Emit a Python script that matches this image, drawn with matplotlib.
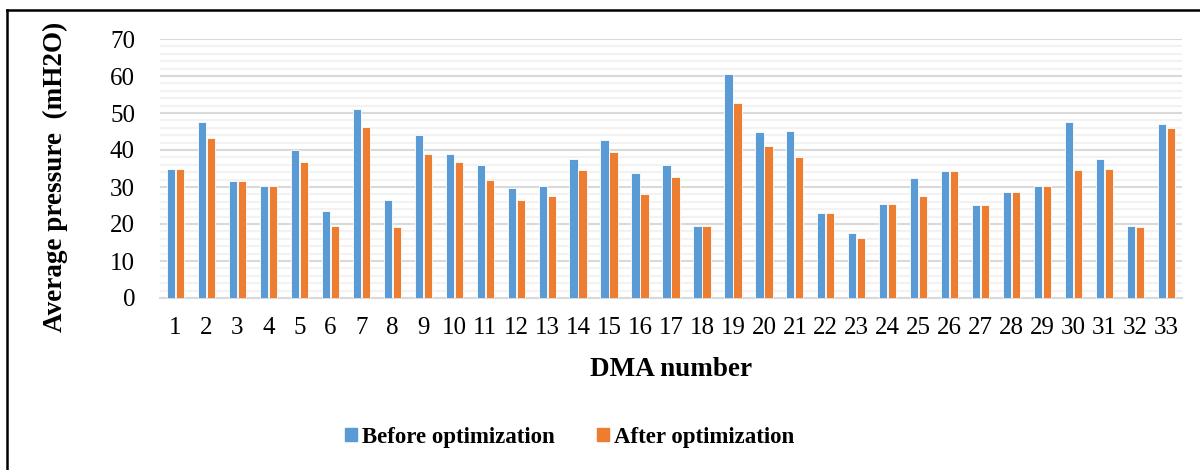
import numpy as np
import matplotlib
matplotlib.use("Agg")
import matplotlib.pyplot as plt
from matplotlib.lines import Line2D
from matplotlib.patches import Patch

# DMA numbers and average pressure (mH2O)
dma = [str(i) for i in range(1, 34)]
before = [35.0, 47.5, 31.6, 30.3, 40.0, 23.5, 51.1, 26.4, 44.0, 38.8, 36.0,
          29.6, 30.4, 37.7, 42.6, 33.7, 36.0, 19.5, 60.5, 44.9, 45.1, 23.1,
          17.7, 25.5, 32.3, 34.2, 25.1, 28.6, 30.4, 47.7, 37.6, 19.5, 47.0]
after = [35.0, 43.2, 31.6, 30.3, 36.8, 19.5, 46.2, 19.3, 39.0, 36.8, 31.8,
         26.5, 27.7, 34.5, 39.5, 28.2, 32.8, 19.4, 52.8, 41.2, 38.0, 23.1,
         16.1, 25.5, 27.5, 34.2, 25.1, 28.6, 30.4, 34.7, 35.0, 19.3, 45.9]

blue = "#5B9BD5"
orange = "#ED7D31"

plt.rcParams['font.family'] = ['Liberation Serif', 'DejaVu Serif']

fig = plt.figure(figsize=(12, 4.7), dpi=100)
ax = fig.add_axes([160/1200, 1 - 298/470, 1022/1200, 259/470])

x = np.arange(len(dma))
w = 0.265
ax.bar(x - 0.145, before, w, color=blue, edgecolor="white", linewidth=0.6, zorder=3)
ax.bar(x + 0.145, after, w, color=orange, edgecolor="white", linewidth=0.6, zorder=3)

ax.set_xlim(-0.5, len(dma) - 0.5)
ax.set_ylim(0, 70)
ax.set_yticks(np.arange(0, 71, 10))
ax.set_yticks(np.arange(0, 71, 2), minor=True)
ax.set_xticks(x)
ax.set_xticklabels(dma)

ax.grid(axis="y", which="major", color="#d9d9d9", linewidth=1.5, zorder=0)
ax.grid(axis="y", which="minor", color="#f2f2f2", linewidth=1.5, zorder=0)
ax.set_axisbelow(True)

for s in ["top", "right", "left"]:
    ax.spines[s].set_visible(False)
ax.spines["bottom"].set_color("#d9d9d9")
ax.spines["bottom"].set_linewidth(1.5)

ax.tick_params(axis="both", which="both", length=0, labelsize=18)
ax.tick_params(axis="y", pad=18)
ax.tick_params(axis="x", pad=14)

ax.set_xlabel("DMA number", fontsize=19.5, fontweight="bold", labelpad=13)
ax.set_ylabel("Average pressure  (mH2O)", fontsize=19.5, fontweight="bold")
ax.yaxis.set_label_coords((68 - 160) / 1022, (298 - 177) / 259)

handles = [Patch(color=blue, label="Before optimization"),
           Patch(color=orange, label="After optimization")]
fig.legend(handles=handles, loc="center", bbox_to_anchor=(570/1200, 1 - 437/470),
           ncol=2, frameon=False, prop={"size": 16.5, "weight": "bold"},
           handlelength=0.52, handleheight=0.52, handletextpad=0.22,
           columnspacing=1.85)

# outer frame (only left and top edges visible in the crop)
fig.add_artist(Line2D([7/1200, 7/1200], [0, 1 - 10/470], color="black", linewidth=1.8))
fig.add_artist(Line2D([7/1200, 1], [1 - 10/470, 1 - 10/470], color="black", linewidth=1.8))

fig.savefig("out.png", dpi=100)
